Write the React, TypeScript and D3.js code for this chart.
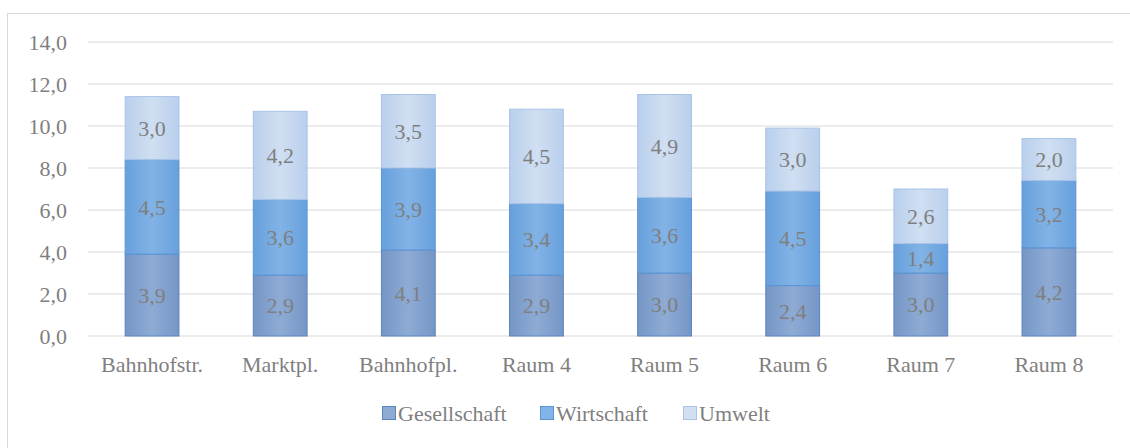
import React from 'react';
import * as d3 from 'd3';

const categories = ['Bahnhofstr.', 'Marktpl.', 'Bahnhofpl.', 'Raum 4', 'Raum 5', 'Raum 6', 'Raum 7', 'Raum 8'];
const seriesNames = ['Gesellschaft', 'Wirtschaft', 'Umwelt'];
const gesellschaft = [3.9, 2.9, 4.1, 2.9, 3.0, 2.4, 3.0, 4.2];
const wirtschaft = [4.5, 3.6, 3.9, 3.4, 3.6, 4.5, 1.4, 3.2];
const umwelt = [3.0, 4.2, 3.5, 4.5, 4.9, 3.0, 2.6, 2.0];
const yTicks = [0, 2, 4, 6, 8, 10, 12, 14];

const fills = ['#8eabd4', '#82b3e6', '#d0dff2'];
const fillsDark = ['#7596c6', '#67a0dc', '#b9cfec'];
const strokes = ['#5a86c0', '#5b95d6', '#a9c3e6'];

const W = 1130;
const H = 448;
const font = "'Times New Roman', Times, 'Liberation Serif', 'DejaVu Serif', serif";
const textColor = '#7f7f7f';
const fs = 22;

export default function App() {
  const margin = { top: 42, left: 88, right: 17, bottom: 112 };
  const x = d3.scaleBand<string>().domain(categories).range([margin.left, W - margin.right]).paddingInner(0.58).paddingOuter(0.29);
  const y = d3.scaleLinear().domain([0, 14]).range([H - margin.bottom, margin.top]);
  const fmt = (v: number) => v.toFixed(1).replace('.', ',');

  const rows = categories.map((c, i) => ({ cat: c, Gesellschaft: gesellschaft[i], Wirtschaft: wirtschaft[i], Umwelt: umwelt[i] }));
  const stack = d3.stack<any>().keys(seriesNames)(rows);

  const legendX = [382, 540, 683];

  return (
    <svg width={W} height={H} style={{ position: 'absolute', left: 0, top: 0, background: '#fff' }} fontFamily={font}>
      <defs>
        {seriesNames.map((s, i) => (
          <linearGradient key={s} id={`g${i}`} x1="0" x2="1" y1="0" y2="0">
            <stop offset="0" stopColor={fillsDark[i]} />
            <stop offset="0.5" stopColor={fills[i]} />
            <stop offset="1" stopColor={fillsDark[i]} />
          </linearGradient>
        ))}
      </defs>
      <rect x={7.5} y={13.5} width={W} height={H} fill="none" stroke="#d9d9d9" />
      {yTicks.map(t => (
        <g key={t}>
          <line x1={margin.left} x2={W - margin.right} y1={y(t)} y2={y(t)} stroke="#d9d9d9" strokeWidth={1} />
          <text x={margin.left - 21} y={y(t)} dy="0.35em" textAnchor="end" fontSize={fs} fill={textColor}>{fmt(t)}</text>
        </g>
      ))}
      {stack.map((layer, si) => (
        <g key={layer.key}>
          {layer.map((d, ci) => {
            const x0 = x(categories[ci])!;
            const y0 = y(d[1]);
            const h = y(d[0]) - y(d[1]);
            const v = d[1] - d[0];
            return (
              <g key={ci}>
                <rect x={x0} y={y0} width={x.bandwidth()} height={h} fill={`url(#g${si})`} stroke={strokes[si]} strokeWidth={1} />
                <text x={x0 + x.bandwidth() / 2} y={y0 + h / 2} dy="0.35em" textAnchor="middle" fontSize={fs} fill={textColor}>{fmt(v)}</text>
              </g>
            );
          })}
        </g>
      ))}
      {categories.map(c => (
        <text key={c} x={x(c)! + x.bandwidth() / 2} y={y(0) + 28} dy="0.35em" textAnchor="middle" fontSize={fs} fill={textColor}>{c}</text>
      ))}
      {seriesNames.map((s, i) => (
        <g key={s}>
          <rect x={legendX[i] + 0.5} y={406.5} width={13} height={13} fill={fills[i]} stroke={strokes[i]} />
          <text x={legendX[i] + 16} y={413} dy="0.35em" fontSize={fs} fill={textColor}>{s}</text>
        </g>
      ))}
    </svg>
  );
}
